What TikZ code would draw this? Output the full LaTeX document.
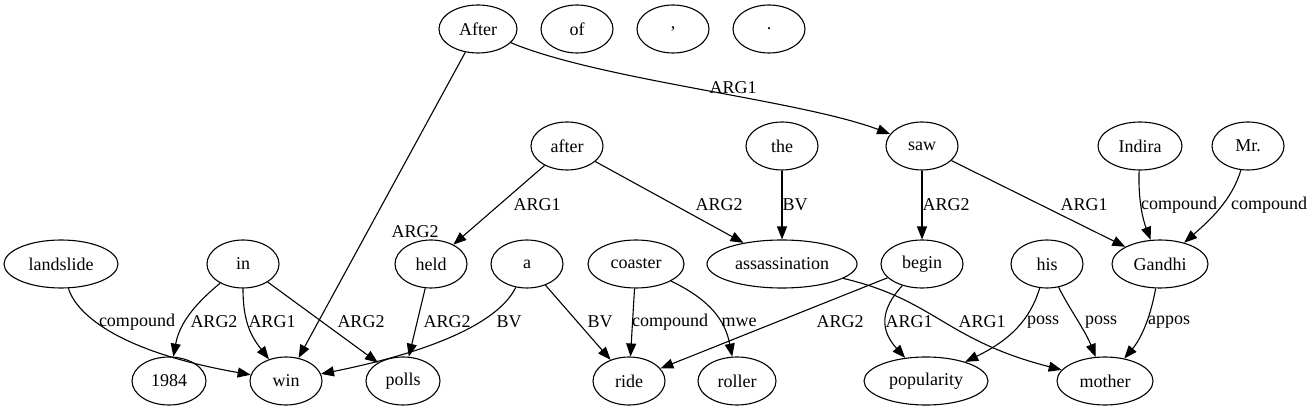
\documentclass[tikz,border=0pt]{standalone}
\usepackage{fontspec}
\setmainfont{Liberation Serif}
\usetikzlibrary{shapes.geometric,arrows.meta}
\begin{document}
\begin{tikzpicture}[x=1pt,y=-1pt,
  nd/.style={draw, ellipse, line width=1.1pt, inner sep=0pt, minimum height=48pt, font=\rmfamily\fontsize{18}{20}\selectfont},
  ed/.style={draw, line width=1.1pt, -{Triangle[length=13pt,width=10pt]}},
  lb/.style={font=\rmfamily\fontsize{18}{20}\selectfont, inner sep=0pt}]
\useasboundingbox (0,0) rectangle (1313,411);
% row 1
\node[nd, minimum width=78pt] (After) at (478,29) {After};
\node[nd, minimum width=72pt] (of) at (577,29) {of};
\node[nd, minimum width=72pt] (comma) at (673,29) {,};
\node[nd, minimum width=72pt] (dot) at (769,29) {.};
% row 2
\node[nd, minimum width=72pt] (after) at (567,146) {after};
\node[nd, minimum width=72pt] (the) at (782,146) {the};
\node[nd, minimum width=72pt] (saw) at (922,146) {saw};
\node[nd, minimum width=84pt] (Indira) at (1140,146) {Indira};
\node[nd, minimum width=72pt] (Mr) at (1248,146) {Mr.};
% row 3
\node[nd, minimum width=114pt] (landslide) at (61,264) {landslide};
\node[nd, minimum width=72pt] (in) at (243,264) {in};
\node[nd, minimum width=72pt] (held) at (431,264) {held};
\node[nd, minimum width=72pt] (a) at (527,264) {a};
\node[nd, minimum width=96pt] (coaster) at (636,264) {coaster};
\node[nd, minimum width=150pt] (assassination) at (782,264) {assassination};
\node[nd, minimum width=82pt] (begin) at (922,264) {begin};
\node[nd, minimum width=72pt] (his) at (1047,264) {his};
\node[nd, minimum width=96pt] (Gandhi) at (1160,264) {Gandhi};
% row 4
\node[nd, minimum width=74pt] (y1984) at (169,381) {1984};
\node[nd, minimum width=72pt] (win) at (286,381) {win};
\node[nd, minimum width=74pt] (polls) at (403,381) {polls};
\node[nd, minimum width=72pt] (ride) at (629,381) {ride};
\node[nd, minimum width=78pt] (roller) at (737,381) {roller};
\node[nd, minimum width=124pt] (popularity) at (926,381) {popularity};
\node[nd, minimum width=96pt] (mother) at (1105,381) {mother};
% edges
\draw[ed] (After) -- (win);
\node[lb] (l1) at (415,232) {ARG2};
\draw[ed] (After) .. controls (600,80) and (800,100) .. (saw);
\node[lb] (l2) at (733,88) {ARG1};
\draw[ed] (after) -- (held);
\node[lb] (l3) at (537,205) {ARG1};
\draw[ed] (after) -- (assassination);
\node[lb] (l4) at (719,205) {ARG2};
\draw[ed] (the) -- (assassination);
\node[lb] (l5) at (795,205) {BV};
\draw[ed] (saw) -- (begin);
\node[lb] (l6) at (946,205) {ARG2};
\draw[ed] (saw) -- (Gandhi);
\node[lb] (l7) at (1084,205) {ARG1};
\draw[ed] (Indira) .. controls (1138,200) and (1143,220) .. (Gandhi);
\node[lb] (l8) at (1179,205) {compound};
\draw[ed] (Mr) .. controls (1232,200) and (1210,220) .. (Gandhi);
\node[lb] (l9) at (1269,205) {compound};
\draw[ed] (landslide) .. controls (75,310) and (110,350) .. (win);
\node[lb] (l10) at (137,322) {compound};
\draw[ed] (in) .. controls (200,300) and (180,320) .. (y1984);
\node[lb] (l11) at (214,322) {ARG2};
\draw[ed] (in) .. controls (243,320) and (250,335) .. (win);
\node[lb] (l12) at (272,322) {ARG1};
\draw[ed] (in) -- (polls);
\node[lb] (l13) at (361,322) {ARG2};
\draw[ed] (held) -- (polls);
\node[lb] (l14) at (447,322) {ARG2};
\draw[ed] (a) .. controls (500,320) and (440,350) .. (win);
\node[lb] (l15) at (509,322) {BV};
\draw[ed] (a) -- (ride);
\node[lb] (l16) at (600,322) {BV};
\draw[ed] (coaster) -- (ride);
\node[lb] (l17) at (670,322) {compound};
\draw[ed] (coaster) .. controls (710,300) and (725,320) .. (roller);
\node[lb] (l18) at (739,322) {mwe};
\draw[ed] (begin) -- (ride);
\node[lb] (l19) at (840,322) {ARG2};
\draw[ed] (begin) .. controls (880,310) and (880,330) .. (popularity);
\node[lb] (l20) at (909,322) {ARG1};
\draw[ed] (assassination) .. controls (935,300) and (945,340) .. (mother);
\node[lb] (l21) at (982,322) {ARG1};
\draw[ed] (his) .. controls (1030,320) and (1010,340) .. (popularity);
\node[lb] (l22) at (1043,322) {poss};
\draw[ed] (his) .. controls (1070,310) and (1085,330) .. (mother);
\node[lb] (l23) at (1101,322) {poss};
\draw[ed] (Gandhi) .. controls (1150,320) and (1140,340) .. (mother);
\node[lb] (l24) at (1169,322) {appos};
\end{tikzpicture}
\end{document}
